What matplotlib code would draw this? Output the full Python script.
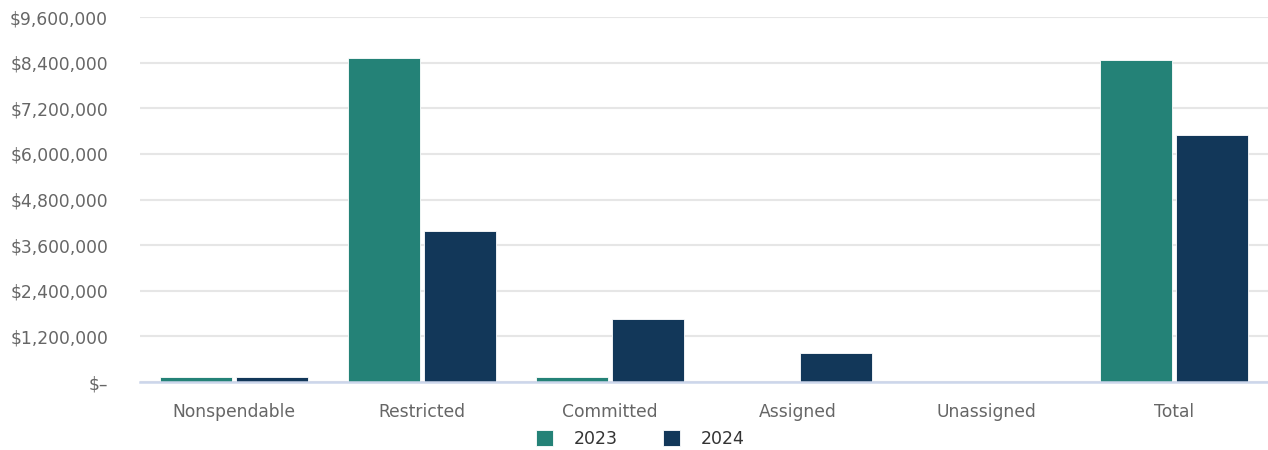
import numpy as np
import matplotlib
matplotlib.use('Agg')
import matplotlib.pyplot as plt
from matplotlib.ticker import FuncFormatter

# Dados do gráfico
categorias = ['Nonspendable', 'Restricted', 'Committed', 'Assigned', 'Unassigned', 'Total']
valores_2023 = [125000, 8520000, 120000, 0, 0, 8470000]
valores_2024 = [125000, 3980000, 1660000, 765000, 0, 6500000]
anos = ['2023', '2024']
cores = ['#248277', '#123759']

plt.rcParams['font.family'] = ['DejaVu Sans']

fig = plt.figure(figsize=(12.68, 4.5), dpi=100)
ax = fig.add_axes([0.1104, 0.1511, 0.8896, 0.8111])

x = np.arange(len(categorias))
largura = 0.383
desloc = 0.202
ax.bar(x - desloc, valores_2023, largura, color=cores[0],
       edgecolor='white', linewidth=0.6, label=anos[0], zorder=3)
ax.bar(x + desloc, valores_2024, largura, color=cores[1],
       edgecolor='white', linewidth=0.6, label=anos[1], zorder=3)

ax.set_xlim(-0.5, len(categorias) - 0.5)
ax.set_ylim(0, 9600000)
ax.set_yticks(np.arange(0, 9600001, 1200000))


def formata_moeda(v, pos):
    if v == 0:
        return '$\u2013'
    return f'${v:,.0f}'


ax.yaxis.set_major_formatter(FuncFormatter(formata_moeda))
ax.set_xticks(x)
ax.set_xticklabels(categorias)

ax.grid(True, axis='y', color='#e6e6e6', linewidth=1.5, zorder=0)
for lado in ['top', 'right', 'left']:
    ax.spines[lado].set_visible(False)
ax.spines['bottom'].set_color('#ccd6eb')
ax.spines['bottom'].set_linewidth(1.8)
ax.spines['bottom'].set_zorder(4)

ax.tick_params(axis='y', length=0, pad=23, labelsize=12.3, labelcolor='#666666')
ax.tick_params(axis='x', length=0, pad=15, labelsize=12.3, labelcolor='#666666')

leg = fig.legend(loc='lower center', bbox_to_anchor=(0.505, -0.03), ncol=2,
                 frameon=False, fontsize=12.5, handlelength=1.0, handleheight=1.0,
                 columnspacing=2.6, handletextpad=1.2)
for t in leg.get_texts():
    t.set_color('#333333')

fig.savefig('out.png', dpi=100)
